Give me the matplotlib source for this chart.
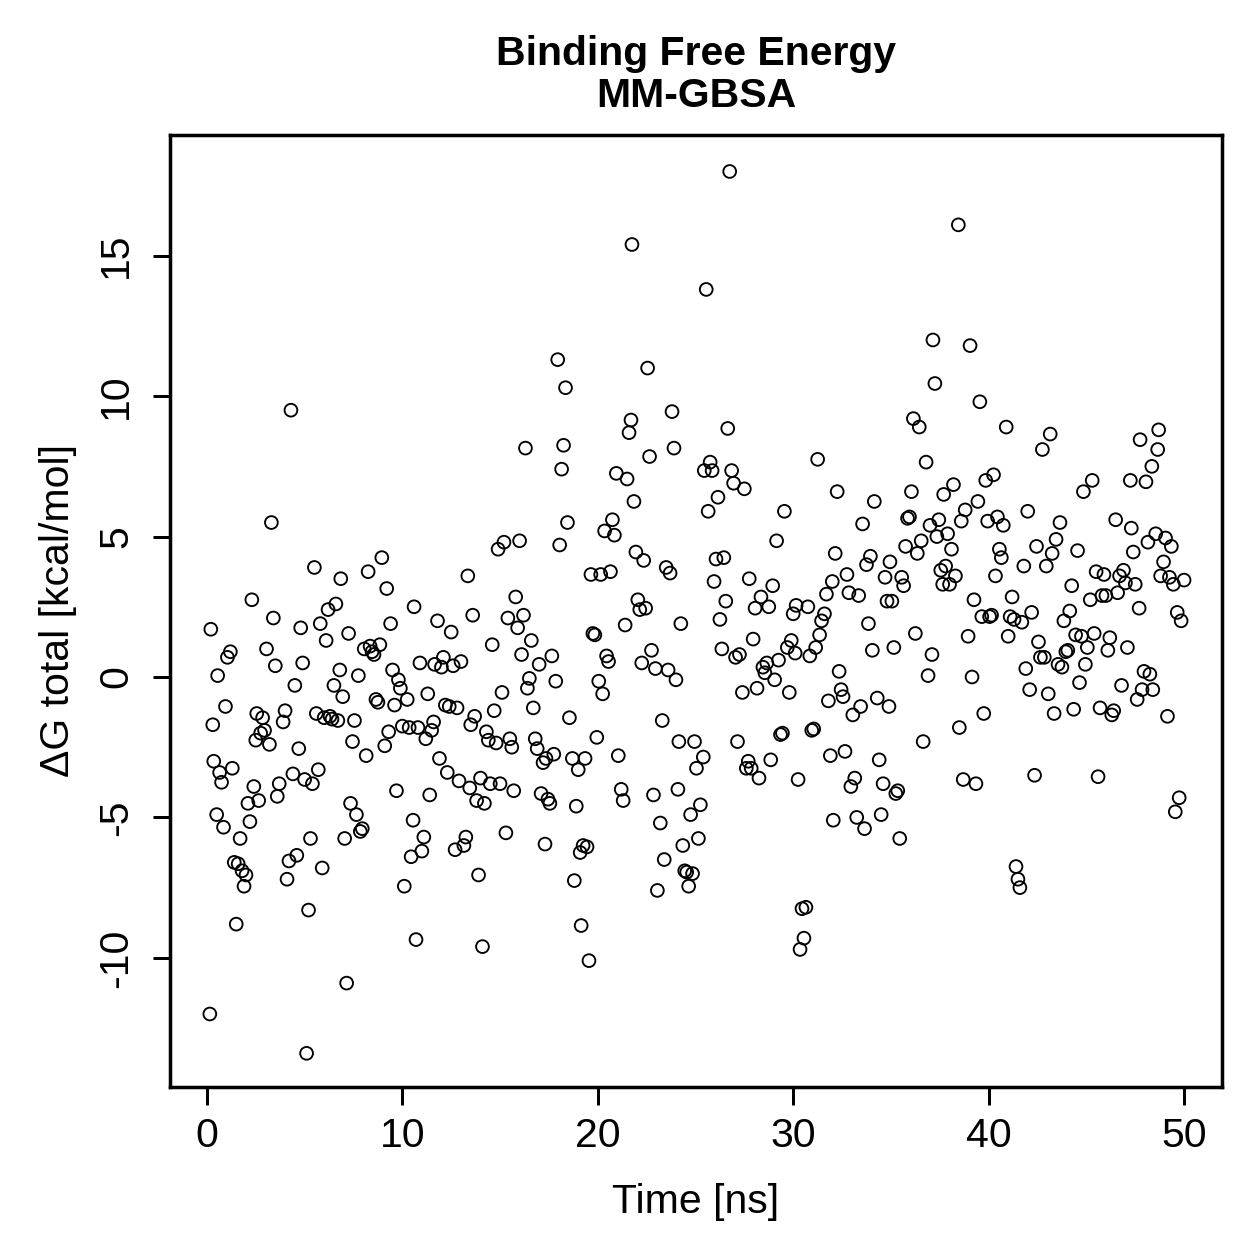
import matplotlib
matplotlib.use("Agg")
import matplotlib.pyplot as plt

plt.rcParams['font.family'] = ['Liberation Sans', 'DejaVu Sans']

# time [ns] and dG total [kcal/mol]
time_ns = [
    0.15, 0.2, 0.3, 0.35, 0.5, 0.55, 0.65, 0.75, 0.85, 0.95, 1.05, 1.2, 1.3, 1.4, 1.5, 1.6, 1.7, 1.8, 1.9, 2.0,
    2.1, 2.2, 2.3, 2.4, 2.5, 2.55, 2.65, 2.75, 2.85, 2.95, 3.05, 3.2, 3.3, 3.4, 3.5, 3.6, 3.7, 3.9, 4.0, 4.1,
    4.2, 4.3, 4.4, 4.5, 4.6, 4.7, 4.8, 4.9, 5.0, 5.1, 5.2, 5.3, 5.4, 5.5, 5.6, 5.7, 5.8, 5.9, 6.0, 6.1,
    6.2, 6.3, 6.4, 6.5, 6.6, 6.7, 6.8, 6.85, 6.95, 7.05, 7.15, 7.25, 7.35, 7.45, 7.55, 7.65, 7.75, 7.85, 7.95, 8.05,
    8.15, 8.25, 8.35, 8.45, 8.55, 8.65, 8.75, 8.85, 8.95, 9.1, 9.2, 9.3, 9.4, 9.5, 9.6, 9.7, 9.8, 9.9, 10.0, 10.1,
    10.25, 10.35, 10.45, 10.55, 10.6, 10.7, 10.8, 10.9, 11.0, 11.1, 11.2, 11.3, 11.4, 11.5, 11.6, 11.65, 11.8, 11.9, 12.0, 12.1,
    12.2, 12.3, 12.4, 12.5, 12.6, 12.7, 12.8, 12.9, 13.0, 13.15, 13.25, 13.35, 13.45, 13.5, 13.6, 13.7, 13.8, 13.9, 14.0, 14.1,
    14.2, 14.3, 14.4, 14.5, 14.6, 14.7, 14.8, 14.9, 15.0, 15.1, 15.2, 15.3, 15.4, 15.5, 15.6, 15.7, 15.8, 15.9, 16.0, 16.1,
    16.2, 16.3, 16.4, 16.5, 16.6, 16.7, 16.8, 16.9, 17.0, 17.1, 17.2, 17.3, 17.35, 17.45, 17.55, 17.65, 17.75, 17.85, 17.95, 18.05,
    18.15, 18.25, 18.35, 18.45, 18.55, 18.7, 18.8, 18.9, 19.0, 19.1, 19.15, 19.25, 19.35, 19.45, 19.55, 19.65, 19.75, 19.85, 19.95, 20.05,
    20.15, 20.25, 20.35, 20.45, 20.55, 20.65, 20.75, 20.85, 20.95, 21.05, 21.2, 21.3, 21.4, 21.5, 21.6, 21.7, 21.75, 21.85, 21.95, 22.05,
    22.15, 22.25, 22.35, 22.45, 22.55, 22.65, 22.75, 22.85, 22.95, 23.05, 23.2, 23.3, 23.4, 23.5, 23.6, 23.7, 23.8, 23.9, 24.0, 24.1,
    24.15, 24.25, 24.35, 24.45, 24.55, 24.65, 24.75, 24.85, 24.95, 25.05, 25.15, 25.25, 25.4, 25.45, 25.55, 25.65, 25.75, 25.85, 25.95, 26.05,
    26.15, 26.25, 26.35, 26.45, 26.55, 26.65, 26.75, 26.85, 26.95, 27.05, 27.15, 27.25, 27.4, 27.5, 27.6, 27.7, 27.75, 27.85, 27.95, 28.05,
    28.15, 28.25, 28.35, 28.45, 28.55, 28.65, 28.75, 28.85, 28.95, 29.05, 29.15, 29.25, 29.35, 29.45, 29.55, 29.7, 29.8, 29.9, 30.0, 30.1,
    30.15, 30.25, 30.35, 30.45, 30.55, 30.65, 30.75, 30.85, 30.95, 31.05, 31.15, 31.25, 31.35, 31.45, 31.6, 31.7, 31.8, 31.9, 32.0, 32.05,
    32.15, 32.25, 32.35, 32.45, 32.55, 32.65, 32.75, 32.85, 32.95, 33.05, 33.15, 33.25, 33.35, 33.45, 33.55, 33.65, 33.75, 33.85, 33.95, 34.05,
    34.15, 34.3, 34.4, 34.5, 34.6, 34.7, 34.8, 34.9, 34.95, 35.05, 35.15, 35.25, 35.35, 35.45, 35.55, 35.65, 35.75, 35.85, 35.95, 36.05,
    36.15, 36.25, 36.35, 36.45, 36.55, 36.65, 36.8, 36.9, 37.0, 37.1, 37.15, 37.25, 37.35, 37.45, 37.55, 37.65, 37.7, 37.8, 37.9, 38.0,
    38.1, 38.2, 38.3, 38.45, 38.5, 38.6, 38.7, 38.8, 38.95, 39.05, 39.15, 39.25, 39.35, 39.45, 39.55, 39.65, 39.75, 39.85, 39.95, 40.05,
    40.15, 40.25, 40.35, 40.45, 40.55, 40.65, 40.75, 40.9, 41.0, 41.1, 41.2, 41.3, 41.4, 41.5, 41.6, 41.7, 41.8, 41.9, 42.0, 42.1,
    42.2, 42.35, 42.45, 42.55, 42.65, 42.75, 42.85, 42.95, 43.05, 43.15, 43.25, 43.35, 43.45, 43.55, 43.65, 43.75, 43.85, 43.95, 44.05, 44.15,
    44.25, 44.35, 44.45, 44.55, 44.65, 44.75, 44.85, 44.95, 45.05, 45.2, 45.3, 45.4, 45.5, 45.6, 45.7, 45.8, 45.9, 46.0, 46.1, 46.2,
    46.3, 46.4, 46.5, 46.6, 46.7, 46.8, 46.9, 47.0, 47.1, 47.25, 47.3, 47.4, 47.5, 47.6, 47.7, 47.75, 47.85, 47.95, 48.05, 48.15,
    48.25, 48.35, 48.4, 48.55, 48.65, 48.7, 48.8, 48.95, 49.05, 49.15, 49.25, 49.35, 49.45, 49.55, 49.65, 49.75, 49.85, 50.0,
]

dg_total = [
    -12.0, 1.7, -1.7, -3.0, -4.9, 0.05, -3.4, -3.75, -5.35, -1.05, 0.7, 0.9, -3.25, -6.6, -8.8, -6.65, -5.75, -6.9, -7.45, -7.05,
    -4.5, -5.15, 2.75, -3.9, -2.25, -1.3, -4.4, -2.0, -1.45, -1.9, 1.0, -2.4, 5.5, 2.1, 0.4, -4.25, -3.8, -1.6, -1.2, -7.2,
    -6.55, 9.5, -3.45, -0.3, -6.35, -2.55, 1.75, 0.5, -3.65, -13.4, -8.3, -5.75, -3.8, 3.9, -1.3, -3.3, 1.9, -6.8, -1.45, 1.3,
    2.4, -1.4, -1.5, -0.3, 2.6, -1.55, 0.25, 3.5, -0.7, -5.75, -10.9, 1.55, -4.5, -2.3, -1.55, -4.9, 0.05, -5.5, -5.4, 1.0,
    -2.8, 3.75, 1.1, 0.9, 0.8, -0.8, -0.9, 1.15, 4.25, -2.45, 3.15, -1.95, 1.9, 0.25, -1.0, -4.05, -0.1, -0.4, -1.75, -7.45,
    -0.8, -1.8, -6.4, -5.1, 2.5, -9.35, -1.8, 0.5, -6.2, -5.7, -2.2, -0.6, -4.2, -1.9, -1.6, 0.45, 2.0, -2.9, 0.35, 0.7,
    -1.0, -3.4, -1.05, 1.6, 0.4, -6.15, -1.1, -3.7, 0.55, -6.0, -5.7, 3.6, -3.95, -1.7, 2.2, -1.4, -4.4, -7.05, -3.6, -9.6,
    -4.5, -1.95, -2.25, -3.8, 1.15, -1.2, -2.35, 4.55, -3.8, -0.55, 4.8, -5.55, 2.1, -2.2, -2.5, -4.05, 2.85, 1.75, 4.85, 0.8,
    2.2, 8.15, -0.4, -0.05, 1.3, -1.1, -2.2, -2.55, 0.45, -4.15, -3.05, -5.95, -2.9, -4.35, -4.5, 0.75, -2.75, -0.15, 11.3, 4.7,
    7.4, 8.25, 10.3, 5.5, -1.45, -2.9, -7.25, -4.6, -3.3, -6.25, -8.85, -6.0, -2.9, -6.05, -10.1, 3.65, 1.55, 1.5, -2.15, -0.15,
    3.65, -0.6, 5.2, 0.75, 0.55, 3.75, 5.6, 5.05, 7.25, -2.8, -4.0, -4.4, 1.85, 7.05, 8.7, 9.15, 15.4, 6.25, 4.45, 2.75,
    2.4, 0.5, 4.15, 2.45, 11.0, 7.85, 0.95, -4.2, 0.3, -7.6, -5.2, -1.55, -6.5, 3.9, 0.25, 3.7, 9.45, 8.15, -0.1, -4.0,
    -2.3, 1.9, -6.0, -6.9, -6.95, -7.45, -4.9, -7.0, -2.3, -3.25, -5.75, -4.55, -2.85, 7.35, 13.8, 5.9, 7.65, 7.35, 3.4, 4.2,
    6.4, 2.05, 1.0, 4.25, 2.7, 8.85, 18.0, 7.35, 6.9, 0.7, -2.3, 0.8, -0.55, 6.7, -3.25, -3.0, 3.5, -3.25, 1.35, 2.45,
    -0.4, -3.6, 2.85, 0.35, 0.15, 0.5, 2.5, -2.95, 3.25, -0.1, 4.85, 0.6, -2.05, -2.0, 5.9, 1.05, -0.55, 1.3, 2.25, 0.85,
    2.55, -3.65, -9.7, -8.25, -9.3, -8.2, 2.5, 0.75, -1.9, -1.85, 1.05, 7.75, 1.5, 2.0, 2.25, 2.95, -0.85, -2.8, 3.4, -5.1,
    4.4, 6.6, 0.2, -0.45, -0.7, -2.65, 3.65, 3.0, -3.9, -1.35, -3.6, -5.0, 2.9, -1.05, 5.45, -5.4, 4.0, 1.9, 4.3, 0.95,
    6.25, -0.75, -2.95, -4.9, -3.8, 3.55, 2.7, -1.05, 4.1, 2.7, 1.05, -4.15, -4.05, -5.75, 3.55, 3.25, 4.65, 5.65, 5.7, 6.6,
    9.2, 1.55, 4.4, 8.9, 4.85, -2.3, 7.65, 0.05, 5.4, 0.8, 12.0, 10.45, 5.0, 5.6, 3.8, 3.3, 6.5, 3.95, 5.1, 3.3,
    4.55, 6.85, 3.6, 16.1, -1.8, 5.55, -3.65, 5.95, 1.45, 11.8, 0.0, 2.75, -3.8, 6.25, 9.8, 2.15, -1.3, 7.0, 5.55, 2.15,
    2.2, 7.2, 3.6, 5.7, 4.55, 4.25, 5.4, 8.9, 1.45, 2.15, 2.85, 2.05, -6.75, -7.2, -7.5, 1.95, 3.95, 0.3, 5.9, -0.45,
    2.3, -3.5, 4.65, 1.25, 0.7, 8.1, 0.7, 3.95, -0.6, 8.65, 4.4, -1.3, 4.9, 0.45, 5.5, 0.35, 2.0, 0.9, 0.95, 2.35,
    3.25, -1.15, 1.5, 4.5, -0.2, 1.45, 6.6, 0.45, 1.05, 2.75, 7.0, 1.55, 3.75, -3.55, -1.1, 2.9, 3.65, 2.9, 0.95, 1.4,
    -1.35, -1.2, 5.6, 3.0, 3.6, -0.3, 3.8, 3.35, 1.05, 7.0, 5.3, 4.45, 3.3, -0.8, 2.45, 8.45, -0.45, 0.2, 6.95, 4.8,
    0.1, 7.5, -0.45, 5.1, 8.1, 8.8, 3.6, 4.1, 4.95, -1.4, 3.55, 4.65, 3.3, -4.8, 2.3, -4.3, 2.0, 3.45,
]

x_ticks = [0, 10, 20, 30, 40, 50]
y_ticks = [-10, -5, 0, 5, 10, 15]

fig = plt.figure(figsize=(1259 / 180, 1259 / 180), dpi=180)
ax = fig.add_axes([0.135, 0.1366, 0.8356, 0.7562])

# open circles like R's pch=1
ax.scatter(time_ns, dg_total, s=26, facecolors='none', edgecolors='black', linewidths=0.75)

ax.set_xlim(-1.89, 51.94)
ax.set_ylim(-14.6, 19.3)
ax.set_xticks(x_ticks)
ax.set_yticks(y_ticks)
ax.set_yticklabels([str(v) for v in y_ticks], rotation=90, va='center')
ax.tick_params(direction='out', length=7, width=1.2, labelsize=16.4)
ax.tick_params(axis='x', pad=5)
ax.tick_params(axis='y', pad=7)
for side in ax.spines.values():
    side.set_linewidth(1.4)

ax.set_xlabel('Time [ns]', fontsize=16.4, labelpad=11)
ax.set_ylabel('ΔG total [kcal/mol]', fontsize=16.4, labelpad=8)
ax.set_title('Binding Free Energy\nMM-GBSA', fontsize=16.4, fontweight='bold', pad=11, linespacing=1.15)

fig.savefig('out.png', dpi=180)
